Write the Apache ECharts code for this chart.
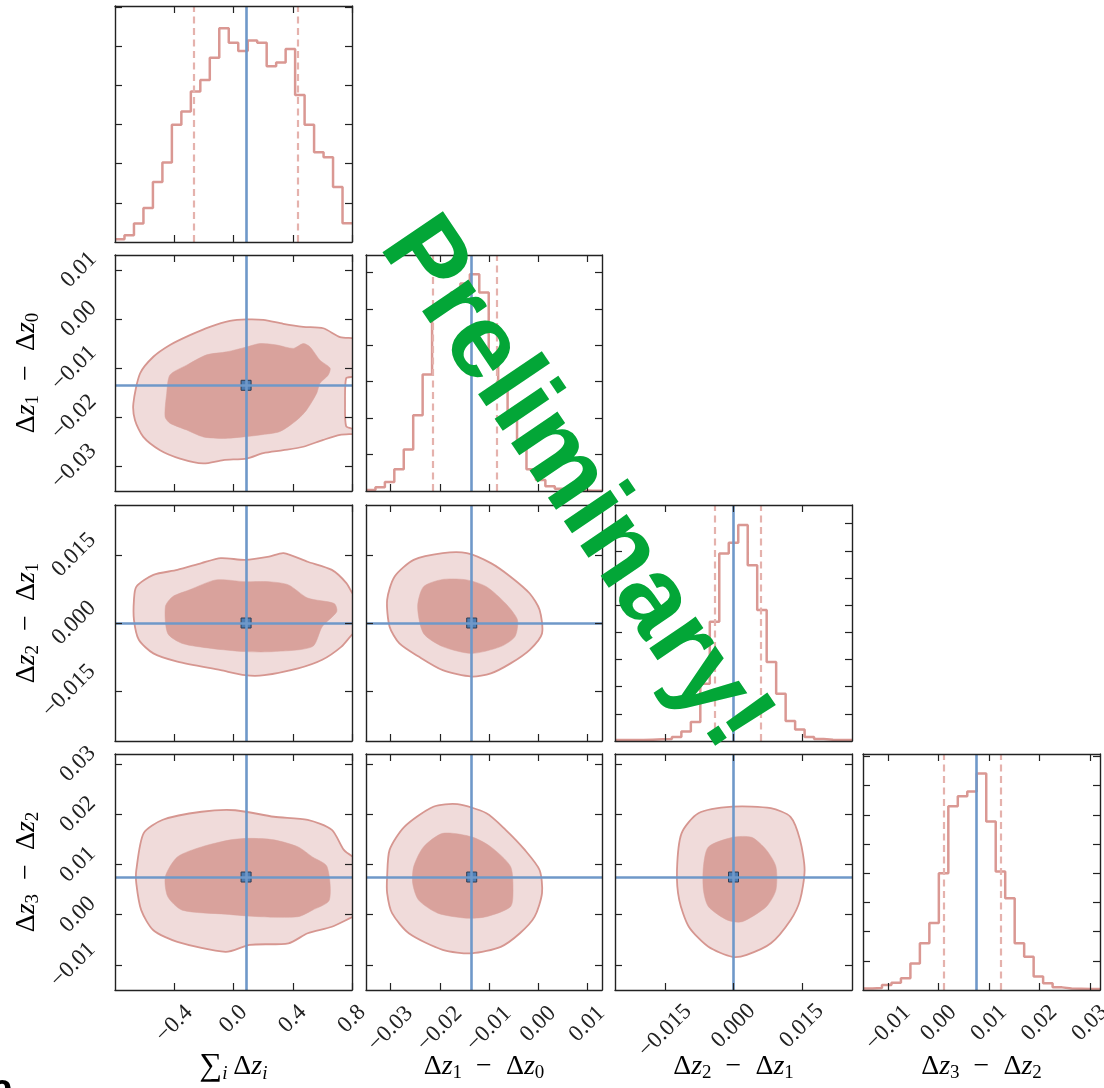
<!DOCTYPE html>
<html>
<head>
<meta charset="utf-8">
<script src="https://cdn.jsdelivr.net/npm/echarts@6/dist/echarts.min.js"></script>
<style>
  html, body { margin: 0; padding: 0; background: #ffffff; }
  #chart { width: 1104px; height: 1088px; }
</style>
</head>
<body>
<div id="chart"></div>
<script>
// ---- parameter axes -------------------------------------------------------
const axisRanges = [[-0.8, 0.8], [-0.035, 0.013], [-0.026, 0.026], [-0.015, 0.032]];
const axisTicks = [
  [-0.4, 0, 0.4, 0.8],
  [-0.03, -0.02, -0.01, 0, 0.01],
  [-0.015, 0, 0.015],
  [-0.01, 0, 0.01, 0.02, 0.03]
];
const tickDecimals = [1, 2, 3, 2];

// reference (input) values and 16/84 percentiles of each marginal
const truthValues = [0.085, -0.0135, 0.0, 0.0075];
const quantiles = [[-0.271, 0.431], [-0.0215, -0.0085], [-0.0042, 0.0059], [0.001, 0.0124]];

// ---- 1D marginal histograms (25 bins over each axis range) ----------------
const histSum = [0.07, 0.17, 0.47, 0.87, 1.53, 2.03, 2.99, 3.33, 3.84, 4.13, 4.70, 5.45, 5.08,
                 4.87, 5.14, 5.08, 4.48, 4.58, 4.92, 3.75, 2.99, 2.29, 2.16, 1.40, 0.48];
const histD10 = [0.03, 0.10, 0.25, 0.60, 1.14, 2.08, 3.20, 4.88, 5.15, 5.45, 5.70, 5.95, 5.45,
                 3.60, 3.00, 2.20, 1.20, 0.60, 0.30, 0.13, 0.06, 0.04, 0.02, 0.01, 0.01];
const histD21 = [0.04, 0.04, 0.04, 0.05, 0.06, 0.07, 0.15, 0.35, 0.70, 2.11, 4.39, 6.90, 7.30,
                 7.95, 6.47, 4.82, 2.91, 1.74, 0.74, 0.42, 0.15, 0.07, 0.05, 0.04, 0.04];
const histD32 = [0.05, 0.07, 0.17, 0.25, 0.40, 0.91, 1.60, 2.29, 4.00, 6.29, 6.63, 6.80, 7.41,
                 5.77, 4.06, 3.14, 1.60, 1.14, 0.46, 0.23, 0.09, 0.05, 0.04, 0.03, 0.03];
const histograms = [histSum, histD10, histD21, histD32];
const histTop = [6.02, 6.48, 8.69, 8.08];
const histTicks = [[1, 2, 3, 4, 5, 6], [1, 2, 3, 4, 5, 6], [1, 2, 3, 4, 5, 6, 7, 8], [1, 2, 3, 4, 5, 6, 7, 8]];

// ---- 2D credible contours (68% inner, 95% outer), [x, y] in data units ----
const c10Outer = [[-0.676,-0.0172],[-0.631,-0.0111],[-0.541,-0.0077],[-0.429,-0.0053],[-0.294,-0.0033],[-0.159,-0.0016],[-0.024,-0.0004],[0.089,-0.0001],[0.201,-0.0002],[0.336,-0.0010],[0.471,-0.0016],[0.606,-0.0019],[0.719,-0.0037],[0.798,-0.0039],[0.86,-0.0040],[0.86,-0.0118],[0.80,-0.0118],[0.76,-0.0121],[0.753,-0.0172],[0.76,-0.0218],[0.80,-0.0223],[0.86,-0.0223],[0.86,-0.0232],[0.719,-0.0236],[0.606,-0.0246],[0.471,-0.0260],[0.336,-0.0267],[0.201,-0.0273],[0.089,-0.0284],[-0.069,-0.0287],[-0.204,-0.0294],[-0.361,-0.0284],[-0.496,-0.0267],[-0.609,-0.0240],[-0.665,-0.0206]];
const c10Inner = [[-0.462,-0.0199],[-0.451,-0.0151],[-0.429,-0.0114],[-0.316,-0.0094],[-0.181,-0.0073],[-0.046,-0.0067],[0.089,-0.0057],[0.179,-0.0050],[0.292,-0.0053],[0.404,-0.0060],[0.471,-0.0050],[0.517,-0.0057],[0.584,-0.0084],[0.652,-0.0100],[0.640,-0.0114],[0.584,-0.0131],[0.562,-0.0151],[0.494,-0.0185],[0.427,-0.0206],[0.314,-0.0229],[0.179,-0.0236],[0.066,-0.0240],[-0.069,-0.0243],[-0.204,-0.0240],[-0.316,-0.0226],[-0.429,-0.0212]];
const c20Outer = [[-0.672,0.0051],[-0.656,0.0080],[-0.541,0.0106],[-0.379,0.0117],[-0.216,0.0132],[-0.086,0.0143],[0.078,0.0139],[0.240,0.0146],[0.338,0.0154],[0.501,0.0135],[0.664,0.0117],[0.762,0.0088],[0.81,0.0062],[0.86,0.0050],[0.86,-0.0020],[0.81,-0.0023],[0.729,-0.0052],[0.599,-0.0081],[0.436,-0.0100],[0.208,-0.0115],[0.078,-0.0115],[-0.086,-0.0104],[-0.379,-0.0085],[-0.541,-0.0067],[-0.639,-0.0037],[-0.672,0.0007]];
const c20Inner = [[-0.460,0.0036],[-0.411,0.0058],[-0.297,0.0073],[-0.118,0.0095],[0.078,0.0091],[0.240,0.0091],[0.371,0.0084],[0.501,0.0055],[0.680,0.0043],[0.697,0.0025],[0.599,-0.0008],[0.533,-0.0052],[0.273,-0.0063],[0.078,-0.0063],[-0.150,-0.0056],[-0.346,-0.0045],[-0.444,-0.0023]];
const c30Outer = [[-0.656,0.0089],[-0.607,0.0162],[-0.477,0.0189],[-0.216,0.0205],[0.012,0.0208],[0.273,0.0195],[0.501,0.0189],[0.664,0.0169],[0.745,0.0129],[0.81,0.0115],[0.86,0.0110],[0.86,0.0],[0.81,-0.0004],[0.664,-0.0024],[0.501,-0.0037],[0.371,-0.0057],[0.110,-0.0060],[-0.053,-0.0074],[-0.379,-0.0054],[-0.541,-0.0031],[-0.623,0.0009],[-0.656,0.0062]];
const c30Inner = [[-0.460,0.0076],[-0.379,0.0115],[-0.216,0.0135],[-0.020,0.0149],[0.110,0.0152],[0.273,0.0149],[0.436,0.0135],[0.533,0.0115],[0.631,0.0096],[0.647,0.0029],[0.533,0.0009],[0.436,-0.0004],[0.175,-0.0004],[-0.053,0.0001],[-0.346,0.0009],[-0.444,0.0036]];
const c21Outer = [[-0.0307,0.0051],[-0.0292,0.0102],[-0.0253,0.0139],[-0.0194,0.0154],[-0.0145,0.0154],[-0.0096,0.0132],[-0.0056,0.0102],[-0.0017,0.0065],[0.0003,0.0029],[0.0008,-0.0023],[-0.0017,-0.0059],[-0.0056,-0.0089],[-0.0096,-0.0111],[-0.0135,-0.0118],[-0.0194,-0.0104],[-0.0243,-0.0074],[-0.0282,-0.0045],[-0.0302,-0.0008]];
const c21Inner = [[-0.0245,0.0036],[-0.0233,0.0080],[-0.0194,0.0096],[-0.0145,0.0095],[-0.0105,0.0080],[-0.0066,0.0043],[-0.0042,0.0007],[-0.0047,-0.0030],[-0.0076,-0.0052],[-0.0135,-0.0067],[-0.0194,-0.0052],[-0.0233,-0.0023]];
const c31Outer = [[-0.0307,0.0076],[-0.0302,0.0129],[-0.0272,0.0175],[-0.0213,0.0215],[-0.0164,0.0220],[-0.0105,0.0202],[-0.0066,0.0169],[-0.0027,0.0129],[0.0003,0.0089],[0.0008,0.0043],[-0.0007,-0.0004],[-0.0037,-0.0037],[-0.0076,-0.0064],[-0.0135,-0.0077],[-0.0194,-0.0070],[-0.0263,-0.0037],[-0.0297,0.0003],[-0.0307,0.0043]];
const c31Inner = [[-0.0253,0.0096],[-0.0233,0.0135],[-0.0194,0.0162],[-0.0135,0.0155],[-0.0096,0.0135],[-0.0056,0.0096],[-0.0051,0.0049],[-0.0056,0.0016],[-0.0105,-0.0004],[-0.0145,-0.0007],[-0.0204,0.0003],[-0.0243,0.0029],[-0.0255,0.0062]];
const c32Outer = [[-0.0124,0.0089],[-0.0114,0.0162],[-0.0077,0.0202],[-0.0002,0.0215],[0.0082,0.0212],[0.0125,0.0195],[0.0146,0.0149],[0.0156,0.0089],[0.0146,0.0029],[0.0125,-0.0011],[0.0082,-0.0057],[0.0029,-0.0080],[-0.0002,-0.0084],[-0.0055,-0.0064],[-0.0098,-0.0024],[-0.0119,0.0029]];
const c32Inner = [[-0.0066,0.0096],[-0.0055,0.0135],[-0.0002,0.0154],[0.0040,0.0154],[0.0072,0.0129],[0.0093,0.0096],[0.0093,0.0049],[0.0072,0.0016],[0.0019,-0.0014],[-0.0013,-0.0011],[-0.0055,0.0016],[-0.0066,0.0049]];
const contours = {
  '1,0': [c10Outer, c10Inner],
  '2,0': [c20Outer, c20Inner],
  '3,0': [c30Outer, c30Inner],
  '2,1': [c21Outer, c21Inner],
  '3,1': [c31Outer, c31Inner],
  '3,2': [c32Outer, c32Inner]
};

// ---- layout & style -------------------------------------------------------
const colLeft = [115, 366, 615, 863];
const colWidth = [237, 236, 237, 237];
const rowTop = [6, 255, 505, 754];
const rowHeight = 236;
const xLabelMargin = [29, 34, 36, 33];
const yLabelMargin = [36, 36, 41, 37];

const FRAME = '#222222';
const HIST = '#da9893';
const HIST_DASH = '#e5b2ad';
const BLUE = '#6f98c9';
const FILL_OUTER = '#f0dbda';
const FILL_INNER = '#d9a29c';
const EDGE = '#d69690';
const SERIF = '"Liberation Serif", "DejaVu Serif", serif';
const tickFont = { fontFamily: SERIF, fontSize: 23, color: '#222222' };

function fmtTick(v, dec) {
  const s = Math.abs(v).toFixed(dec);
  return v < -1e-12 ? '{m|\u2212' + s + '}' : '{p|' + s + '}';
}

function xLabelCfg(c) {
  return {
    show: true, rotate: 45, margin: xLabelMargin[c], align: 'center', verticalAlign: 'middle',
    formatter: v => fmtTick(v, tickDecimals[c]),
    rich: { m: Object.assign({ padding: [7, 7, 0, 0] }, tickFont), p: Object.assign({}, tickFont) }
  };
}
function yLabelCfg(r) {
  return {
    show: true, rotate: 45, margin: yLabelMargin[r], align: 'center', verticalAlign: 'middle',
    formatter: v => fmtTick(v, tickDecimals[r]),
    rich: { m: Object.assign({ padding: [0, 7, 7, 0] }, tickFont), p: Object.assign({}, tickFont) }
  };
}

function makeAxis(position, gridIndex, range, ticks, label) {
  return {
    type: 'value', gridIndex, position, min: range[0], max: range[1], z: 10,
    axisLine: { show: true, onZero: false, lineStyle: { color: FRAME, width: 1.4 } },
    axisTick: { show: true, inside: true, length: 7, customValues: ticks, lineStyle: { color: FRAME, width: 1.2 } },
    axisLabel: label ? Object.assign({ customValues: ticks }, label) : { show: false },
    splitLine: { show: false }, splitArea: { show: false }
  };
}

function binEdges(range, n) {
  const w = (range[1] - range[0]) / n;
  const e = [];
  for (let k = 0; k <= n; k++) e.push(range[0] + k * w);
  return e;
}

function contourSeries(xi, yi, pts, fill, stroke, lw) {
  return {
    type: 'custom', xAxisIndex: xi, yAxisIndex: yi, clip: true, silent: true, z: 2,
    animation: false, data: pts, encode: { x: 0, y: 1 },
    renderItem(params, api) {
      if (params.dataIndex !== 0) return null;
      const points = pts.map(p => api.coord(p));
      return {
        type: 'polygon',
        shape: { points, smooth: 0.25 },
        style: { fill, stroke, lineWidth: lw }
      };
    }
  };
}

const dashStyle = { type: [7, 4.5], color: HIST_DASH, width: 2.2 };
const blueStyle = { type: 'solid', color: BLUE, width: 2.6 };

const grid = [], xAxis = [], yAxis = [], series = [];
let g = 0;
for (let r = 0; r < 4; r++) {
  for (let c = 0; c <= r; c++) {
    grid.push({ left: colLeft[c], top: rowTop[r], width: colWidth[c], height: rowHeight,
                containLabel: false, outerBoundsMode: 'none' });
    const xi = xAxis.length, yi = yAxis.length;
    xAxis.push(makeAxis('bottom', g, axisRanges[c], axisTicks[c], r === 3 ? xLabelCfg(c) : null));
    xAxis.push(makeAxis('top', g, axisRanges[c], axisTicks[c], null));
    if (r === c) {
      yAxis.push(makeAxis('left', g, [0, histTop[c]], histTicks[c], null));
      yAxis.push(makeAxis('right', g, [0, histTop[c]], histTicks[c], null));
      const h = histograms[c];
      const edges = binEdges(axisRanges[c], h.length);
      const pts = h.map((v, k) => [edges[k], v]);
      pts.push([edges[h.length], h[h.length - 1]]);
      series.push({
        type: 'line', xAxisIndex: xi, yAxisIndex: yi, data: pts, step: 'end',
        symbol: 'none', showSymbol: false, clip: true, silent: true, animation: false, z: 3,
        lineStyle: { color: HIST, width: 2.5 },
        markLine: {
          silent: true, symbol: ['none', 'none'], label: { show: false }, animation: false,
          precision: 8,
          data: [
            { xAxis: quantiles[c][0], lineStyle: dashStyle },
            { xAxis: quantiles[c][1], lineStyle: dashStyle },
            { xAxis: truthValues[c], lineStyle: blueStyle }
          ]
        }
      });
    } else {
      yAxis.push(makeAxis('left', g, axisRanges[r], axisTicks[r], c === 0 ? yLabelCfg(r) : null));
      yAxis.push(makeAxis('right', g, axisRanges[r], axisTicks[r], null));
      const [outer, inner] = contours[r + ',' + c];
      series.push(contourSeries(xi, yi, outer, FILL_OUTER, EDGE, 1.8));
      series.push(contourSeries(xi, yi, inner, FILL_INNER, FILL_INNER, 0.5));
      series.push({
        type: 'line', xAxisIndex: xi, yAxisIndex: yi, data: [], silent: true, animation: false, z: 3,
        markLine: {
          silent: true, symbol: ['none', 'none'], label: { show: false }, animation: false,
          precision: 8,
          lineStyle: blueStyle,
          data: [{ xAxis: truthValues[c] }, { yAxis: truthValues[r] }]
        }
      });
      series.push({
        type: 'scatter', xAxisIndex: xi, yAxisIndex: yi, silent: true, animation: false, z: 4,
        data: [[truthValues[c], truthValues[r]]],
        symbol: 'rect', symbolSize: 10,
        itemStyle: { color: '#4d7db4', borderColor: '#2c3e55', borderWidth: 1, opacity: 1 }
      });
    }
    g++;
  }
}

// ---- axis titles ------------------------------------------------------------
const titleRich = {
  t: { fontFamily: SERIF, fontSize: 28, lineHeight: 32, color: '#111111' },
  it: { fontFamily: SERIF, fontSize: 28, lineHeight: 32, fontStyle: 'italic', color: '#111111' },
  op: { fontFamily: SERIF, fontSize: 32, lineHeight: 32, color: '#111111' },
  sub: { fontFamily: SERIF, fontSize: 19, lineHeight: 16, verticalAlign: 'bottom', color: '#111111' },
  subi: { fontFamily: SERIF, fontSize: 19, lineHeight: 16, verticalAlign: 'bottom', fontStyle: 'italic', color: '#111111' }
};
const paramTitles = [
  '{op|\u2211}{subi|i}{t|\u2009\u0394}{it|z}{subi|i}',
  '{t|\u0394}{it|z}{sub|1}{t|\u2002\u2212\u2002\u0394}{it|z}{sub|0}',
  '{t|\u0394}{it|z}{sub|2}{t|\u2002\u2212\u2002\u0394}{it|z}{sub|1}',
  '{t|\u0394}{it|z}{sub|3}{t|\u2002\u2212\u2002\u0394}{it|z}{sub|2}'
];

const graphic = [];
for (let c = 0; c < 4; c++) {
  graphic.push({
    type: 'text', x: colLeft[c] + colWidth[c] / 2, y: 1067, silent: true,
    style: { text: paramTitles[c], rich: titleRich, align: 'center', verticalAlign: 'middle' }
  });
}
for (let r = 1; r < 4; r++) {
  graphic.push({
    type: 'text', x: 27, y: rowTop[r] + rowHeight / 2, rotation: Math.PI / 2, silent: true,
    style: { text: paramTitles[r], rich: titleRich, align: 'center', verticalAlign: 'middle' }
  });
}
// panel tag
graphic.push({
  type: 'text', x: -9, y: 1071, silent: true,
  style: { text: 'a', fontFamily: '"Liberation Sans", Arial, sans-serif', fontWeight: 'bold',
           fontSize: 40, fill: '#000000', align: 'left', verticalAlign: 'top' }
});
// watermark
graphic.push({
  type: 'text', x: 574, y: 484, rotation: -56 * Math.PI / 180, z: 100, silent: true,
  style: { text: 'Preliminary!', fontFamily: '"Liberation Sans", Arial, sans-serif', fontWeight: 'bold',
           fontSize: 106, fill: '#03a637', align: 'center', verticalAlign: 'middle' }
});

const chart = echarts.init(document.getElementById('chart'), null, { renderer: 'canvas' });
chart.setOption({
  animation: false,
  backgroundColor: '#ffffff',
  grid, xAxis, yAxis, series,
  graphic: { elements: graphic, z: 100 }
});
</script>
</body>
</html>
